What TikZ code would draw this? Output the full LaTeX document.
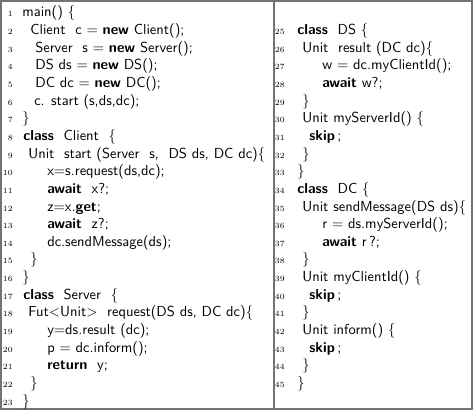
\documentclass[tikz,border=0pt]{standalone}
\usepackage{fontspec}
\usetikzlibrary{positioning}

\begin{document}
\begin{tikzpicture}[x=0.69pt, y=-0.69pt]
    % Styles
    \tikzstyle{frame} = [draw=black!55, line width=1.2pt]
    \tikzstyle{code} = [anchor=base west, inner sep=0pt, font=\sffamily\fontsize{10}{12}\selectfont]
    \tikzstyle{lineno} = [anchor=base east, inner sep=0pt, font=\fontsize{5.5}{6}\selectfont]

    \useasboundingbox (0,0) rectangle (474,411);

    % Frame and column rule
    \coordinate (tl) at (1,1);
    \coordinate (br) at (472,409);
    \coordinate (mt) at (274,1);
    \coordinate (mb) at (274,409);
    \draw [frame] (tl) rectangle (br);
    \draw [frame] (mt) -- (mb);

    % Left column
    \foreach \n/\x/\t in {
        1/22/{main() \{},
        2/30/{Client\ \ c = \textbf{new} Client();},
        3/35/{Server\ \ s = \textbf{new} Server();},
        4/35/{DS ds = \textbf{new} DS();},
        5/35/{DC dc = \textbf{new} DC();},
        6/34/{c. start (s,ds,dc);},
        7/22/{\}},
        8/23/{\textbf{class}\ \ Client\ \ \{},
        9/28/{Unit\ \ start (Server\ \ s,\ \ DS ds, DC dc)\{},
        10/47/{x=s.request(ds,dc);},
        11/47/{\textbf{await}\ \ x?;},
        12/47/{z=x.\textbf{get};},
        13/47/{\textbf{await}\ \ z?;},
        14/47/{dc.sendMessage(ds);},
        15/30/{\}},
        16/22/{\}},
        17/23/{\textbf{class}\ \ Server\ \ \{},
        18/28/{Fut<Unit>\ \ request(DS ds, DC dc)\{},
        19/47/{y=ds.result (dc);},
        20/47/{p = dc.inform();},
        21/47/{\textbf{return}\ \ y;},
        22/30/{\}},
        23/22/{\}}}
    {
        \node [lineno] (n\n) at (13, {16.9+(\n-1)*17.65}) {\n};
        \node [code] (l\n) at (\x, {16.9+(\n-1)*17.65}) {\t};
    }

    % Right column
    \foreach \n/\x/\t in {
        25/297/{\textbf{class}\ \ DS \{},
        26/302/{Unit\ \ result (DC dc)\{},
        27/322/{w = dc.myClientId();},
        28/322/{\textbf{await}\ w?;},
        29/302/{\}},
        30/302/{Unit\ myServerId() \{},
        31/309/{\textbf{skip}\,;},
        32/302/{\}},
        33/297/{\}},
        34/297/{\textbf{class}\ \ DC \{},
        35/302/{Unit\ sendMessage(DS ds)\{},
        36/322/{r = ds.myServerId();},
        37/322/{\textbf{await}\ r\,?;},
        38/302/{\}},
        39/302/{Unit\ myClientId() \{},
        40/309/{\textbf{skip}\,;},
        41/302/{\}},
        42/302/{Unit\ inform() \{},
        43/309/{\textbf{skip}\,;},
        44/302/{\}},
        45/297/{\}}}
    {
        \node [lineno] (n\n) at (285, {16.9+(\n-24)*17.65}) {\n};
        \node [code] (l\n) at (\x, {16.9+(\n-24)*17.65}) {\t};
    }

\end{tikzpicture}
\end{document}
